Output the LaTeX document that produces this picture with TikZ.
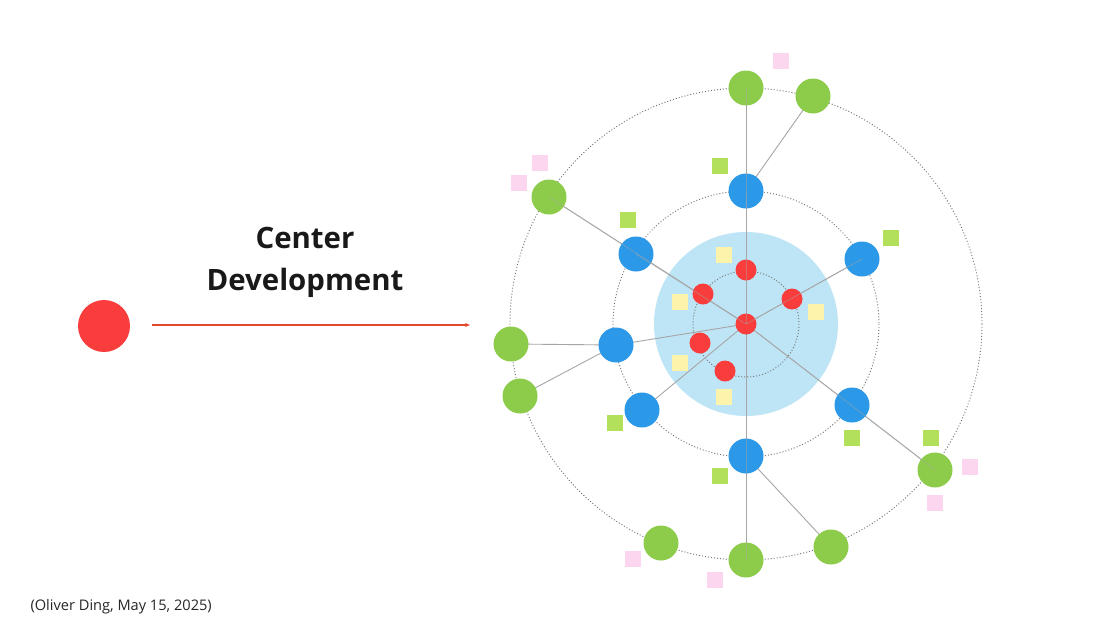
\documentclass[tikz,border=0pt]{standalone}
\usepackage{fontspec}
\setmainfont{Open Sans}
\usetikzlibrary{arrows.meta}
\definecolor{cred}{HTML}{F93C3C}
\definecolor{cblue}{HTML}{2B98E8}
\definecolor{cgreen}{HTML}{8DCC4B}
\definecolor{clight}{HTML}{BEE5F5}
\definecolor{cpink}{HTML}{FCD6EF}
\definecolor{clime}{HTML}{B2E05A}
\definecolor{cyel}{HTML}{FDF3AA}
\definecolor{carrow}{HTML}{E5482E}
\begin{document}
\begin{tikzpicture}[x=1pt,y=-1pt,
  rednode/.style={circle,fill=cred,inner sep=0pt,minimum size=21pt},
  bluenode/.style={circle,fill=cblue,inner sep=0pt,minimum size=35pt},
  greennode/.style={circle,fill=cgreen,inner sep=0pt,minimum size=35pt},
  sq/.style={rectangle,inner sep=0pt,minimum size=16pt},
  pinksq/.style={sq,fill=cpink},
  limesq/.style={sq,fill=clime},
  yelsq/.style={sq,fill=cyel},
  ring/.style={draw=black!55,line width=0.9pt,dash pattern=on 1pt off 2pt},
  link/.style={draw=gray!70,line width=0.9pt}]
\useasboundingbox (0,0) rectangle (1100,643);
\fill[white] (0,0) rectangle (1100,643);
% rings
\fill[clight] (746,324) circle (92);
\draw[ring] (746,324) circle (53);
\draw[ring] (746,324) circle (133);
\draw[ring] (746,324) circle (236);
% squares
\node[pinksq] (p1) at (781,61) {};
\node[pinksq] (p2) at (540,163) {};
\node[pinksq] (p3) at (519,183) {};
\node[pinksq] (p4) at (970,467) {};
\node[pinksq] (p5) at (935,503) {};
\node[pinksq] (p6) at (633,559) {};
\node[pinksq] (p7) at (715,580) {};
\node[limesq] (l1) at (720,166) {};
\node[limesq] (l2) at (628,220) {};
\node[limesq] (l3) at (891,238) {};
\node[limesq] (l4) at (615,423) {};
\node[limesq] (l5) at (852,438) {};
\node[limesq] (l6) at (931,438) {};
\node[limesq] (l7) at (720,476) {};
\node[yelsq] (y1) at (724,255) {};
\node[yelsq] (y2) at (680,302) {};
\node[yelsq] (y3) at (816,312) {};
\node[yelsq] (y4) at (680,363) {};
\node[yelsq] (y5) at (724,397) {};
% coordinates of nodes
\coordinate (c0) at (746,324);
\coordinate (G1) at (746,88);
\coordinate (G2) at (813,96);
\coordinate (G3) at (549,197);
\coordinate (G4) at (511,344);
\coordinate (G5) at (520,396);
\coordinate (G6) at (935,470);
\coordinate (G7) at (661,543);
\coordinate (G8) at (746,560);
\coordinate (G9) at (831,547);
\coordinate (B1) at (746,191);
\coordinate (B2) at (636,254);
\coordinate (B3) at (862,259);
\coordinate (B4) at (616,345);
\coordinate (B5) at (642,410);
\coordinate (B6) at (852,405);
\coordinate (B7) at (746,456);
% links
\draw[link] (c0) -- (G1);
\draw[link] (c0) -- (G8);
\draw[link] (B1) -- (G2);
\draw[link] (c0) -- (G3);
\draw[link] (c0) -- (B3);
\draw[link] (c0) -- (B4);
\draw[link] (B4) -- (G4);
\draw[link] (B4) -- (G5);
\draw[link] (c0) -- (B5);
\draw[link] (c0) -- (G6);
\draw[link] (B7) -- (G9);
% nodes
\foreach \n in {G1,G2,G3,G4,G5,G6,G7,G8,G9} {\node[greennode] (n\n) at (\n) {};}
\foreach \n in {B1,B2,B3,B4,B5,B6,B7} {\node[bluenode] (n\n) at (\n) {};}
\draw[link,draw opacity=0.45] (c0) -- (G3);
\draw[link,draw opacity=0.45] (c0) -- (G6);
\draw[link,draw opacity=0.45] (c0) -- (G1);
\draw[link,draw opacity=0.45] (c0) -- (G8);
\node[rednode] (r0) at (c0) {};
\node[rednode] (r1) at (746,270) {};
\node[rednode] (r2) at (703,294) {};
\node[rednode] (r3) at (792,299) {};
\node[rednode] (r4) at (700,343) {};
\node[rednode] (r5) at (725,371) {};
\draw[link,draw opacity=0.45] (c0) -- (B1);
\draw[link,draw opacity=0.45] (c0) -- (B2);
\draw[link,draw opacity=0.45] (c0) -- (B3);
% left part
\node[circle,fill=cred,inner sep=0pt,minimum size=52pt] (big) at (104,326) {};
\coordinate (astart) at (152,325);
\coordinate (aend) at (470,325);
\draw[carrow,line width=1.2pt,-{Stealth[length=5pt,width=4pt]}] (astart) -- (aend);
\node[font=\bfseries\fontsize{29.4}{42}\selectfont,align=center,text=black!90] (title) at (305,262) {Center\\Development};
\node[anchor=west,font=\fontsize{14.6}{16}\selectfont,text=black!85] (cap) at (27,607) {(Oliver Ding, May 15, 2025)};
\end{tikzpicture}
\end{document}
